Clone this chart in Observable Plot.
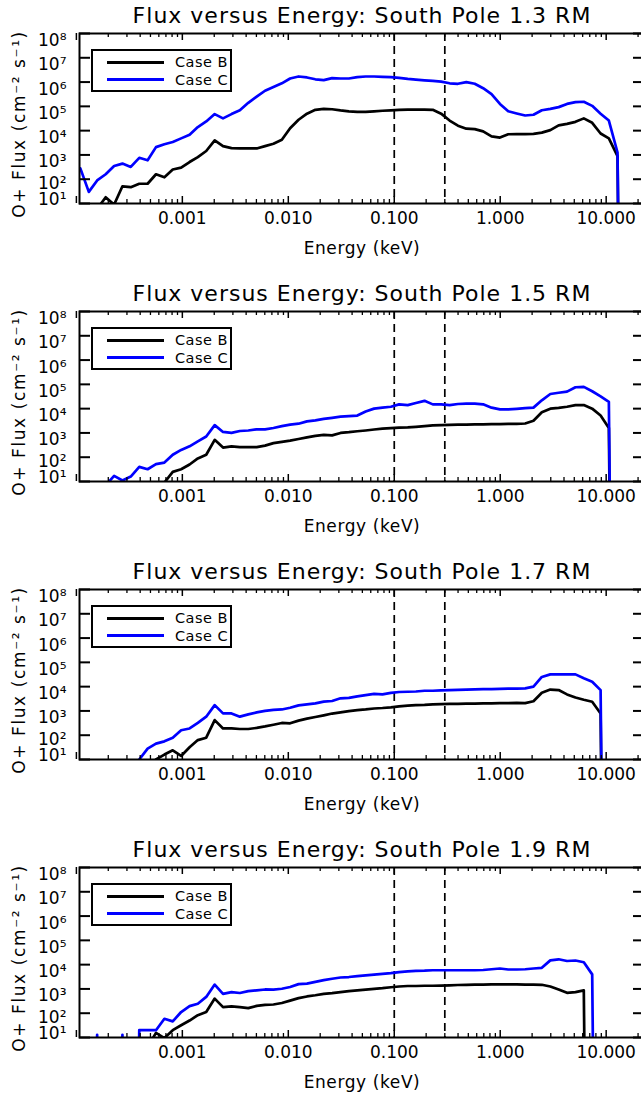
<!DOCTYPE html>
<html>
<head>
<meta charset="utf-8">
<script src="https://cdn.jsdelivr.net/npm/d3@7"></script>
<script src="https://cdn.jsdelivr.net/npm/@observablehq/plot@0.6"></script>
<style>
  html, body { margin: 0; padding: 0; background: #fff; overflow: hidden; }
  #chart { width: 641px; }
  .panel { position: relative; width: 641px; height: 278px; overflow: hidden; }
  .legend { position: absolute; left: 91px; top: 49px; width: 141px; height: 43px; box-sizing: border-box;
            border: 2px solid #000; background: #fff; font-family: "DejaVu Sans"; font-size: 14.5px; letter-spacing: 0.5px; }
  .legend .row { position: absolute; left: 14px; height: 20px; display: flex; align-items: center; }
  .legend .swatch { width: 57px; height: 3px; margin-right: 11px; }
</style>
</head>
<body>
<div id="chart"></div>
<script>
// ---- data ----
const panelTitles = [
  "Flux versus Energy: South Pole 1.3 RM",
  "Flux versus Energy: South Pole 1.5 RM",
  "Flux versus Energy: South Pole 1.7 RM",
  "Flux versus Energy: South Pole 1.9 RM"
];
const seriesNames = ["Case B", "Case C"];
const seriesColors = ["#000000", "#0000ff"];
const markerEnergies = [0.1, 0.3];           // dashed reference lines (keV)
const xLabelTicks = [0.001, 0.01, 0.1, 1, 10];
const xMajorTicks = [0.0001, 0.001, 0.01, 0.1, 1, 10];
const yTicks = [1e1, 1e2, 1e3, 1e4, 1e5, 1e6, 1e7, 1e8];
const xDomain = [1.07e-4, 23];
const yDomain = [10, 1e8];

// energy bins (keV)
const energy = [
  0.000109, 0.000131, 0.000157, 0.000189, 0.000227, 0.000272, 0.000326, 0.000392, 0.000470, 0.000564,
  0.000677, 0.000812, 0.000974, 0.00117, 0.00140, 0.00168, 0.00202, 0.00242, 0.00291, 0.00349,
  0.00419, 0.00503, 0.00603, 0.00724, 0.00869, 0.0104, 0.0125, 0.0150, 0.0180, 0.0216,
  0.0259, 0.0311, 0.0373, 0.0448, 0.0537, 0.0645, 0.0774, 0.0929, 0.111, 0.134,
  0.160, 0.193, 0.231, 0.277, 0.333, 0.399, 0.479, 0.575, 0.690, 0.828,
  0.994, 1.19, 1.43, 1.72, 2.06, 2.47, 2.97, 3.56, 4.27, 5.13,
  6.15, 7.38, 8.86, 10.6, 12.8, 15.3
];

// O+ flux (cm^-2 s^-1); 0 = no flux (drawn as a drop below the axis)
const fluxB13 = [
  2, 3, 6, 18, 9, 51, 47, 65, 65, 160,
  120, 250, 300, 510, 810, 1450, 4000, 2300, 1900, 1850,
  1850, 1850, 2300, 2900, 4200, 12600, 28000, 50000, 72000, 79000,
  76000, 68000, 62000, 59000, 59000, 62000, 66000, 68000, 71000, 74000,
  74000, 74000, 72000, 50000, 26000, 16000, 12000, 11500, 9300, 5800,
  5200, 7100, 7200, 7200, 7400, 8300, 10500, 16600, 19000, 23000,
  32000, 21000, 7600, 4800, 890, 0
];
const fluxC13 = [
  280, 30, 89, 160, 350, 440, 320, 760, 600, 2100,
  2750, 3400, 4800, 6800, 14000, 24000, 48000, 32000, 48000, 69000,
  140000, 250000, 440000, 630000, 890000, 1400000, 1700000, 1550000, 1300000, 1200000,
  1450000, 1400000, 1400000, 1600000, 1700000, 1700000, 1650000, 1600000, 1500000, 1350000,
  1260000, 1180000, 1120000, 1050000, 890000, 850000, 1000000, 850000, 560000, 320000,
  126000, 63000, 51000, 42000, 45000, 69000, 79000, 93000, 126000, 150000,
  155000, 105000, 50000, 26000, 1260, 0
];
const fluxB15 = [
  0, 0, 0, 0, 0, 0, 0, 0, 0, 0,
  9, 25, 32, 50, 89, 126, 520, 250, 280, 260,
  260, 260, 300, 380, 430, 480, 560, 660, 760, 830,
  790, 1000, 1070, 1170, 1260, 1380, 1510, 1580, 1660, 1700,
  1780, 1900, 2040, 2090, 2140, 2190, 2190, 2240, 2240, 2290,
  2290, 2340, 2340, 2450, 3160, 7100, 10000, 10700, 12000, 14000,
  14000, 10000, 5200, 1600, 0, 0
];
const fluxC15 = [
  3, 4, 5, 7, 17, 11, 16, 40, 32, 52,
  60, 126, 200, 280, 450, 710, 2100, 1100, 1000, 1200,
  1260, 1400, 1400, 1600, 1900, 2200, 2400, 3000, 3300, 3800,
  4200, 4700, 4900, 5200, 7600, 10000, 11000, 12000, 15000, 14000,
  17000, 21000, 15000, 15000, 14000, 15500, 16000, 16000, 15000, 11000,
  9300, 9300, 9800, 10500, 11000, 22000, 40000, 45000, 50000, 76000,
  79000, 52000, 32000, 19000, 0, 0
];
const fluxB17 = [
  0, 0, 0, 0, 0, 0, 0, 0, 0, 10,
  16, 24, 14, 32, 63, 79, 420, 190, 190, 180,
  180, 200, 230, 270, 320, 310, 400, 480, 560, 660,
  780, 870, 980, 1070, 1150, 1260, 1320, 1410, 1550, 1660,
  1740, 1780, 1860, 1910, 1950, 1950, 2000, 2000, 2040, 2040,
  2090, 2090, 2140, 2090, 2510, 5620, 7590, 7240, 4790, 3550,
  2880, 2400, 790, 0, 0, 0
];
const fluxC17 = [
  0, 0, 0, 0, 0, 0, 0, 10, 28, 45,
  56, 79, 160, 190, 320, 580, 1740, 790, 790, 580,
  720, 870, 1000, 1100, 1150, 1350, 1700, 1860, 2040, 2400,
  2570, 3310, 3470, 3980, 4470, 5010, 4790, 5500, 6030, 6170,
  6310, 6760, 6760, 7080, 7240, 7410, 7590, 7760, 7940, 7940,
  8130, 8320, 8320, 8510, 10000, 25000, 32000, 32000, 32000, 32000,
  22000, 16000, 7200, 0, 0, 0
];
const fluxB19 = [
  0, 0, 0, 0, 0, 0, 0, 0, 4, 15.5,
  9.5, 20, 32, 50, 83, 112, 400, 178, 190, 178,
  162, 200, 219, 229, 263, 331, 417, 490, 550, 630,
  676, 741, 813, 871, 933, 1000, 1070, 1175, 1260, 1320,
  1320, 1350, 1350, 1380, 1410, 1450, 1480, 1510, 1510, 1550,
  1550, 1550, 1550, 1510, 1510, 1480, 1260, 955, 692, 741,
  871, 0, 0, 0, 0, 0
];
const fluxC19 = [
  0, 0, 13, 0, 0, 13, 0, 20, 20, 20,
  59, 46, 112, 195, 245, 470, 1510, 630, 740, 680,
  810, 870, 950, 930, 1020, 1200, 1580, 1660, 1950, 2290,
  2630, 2950, 3090, 3390, 3630, 3890, 4170, 4470, 4900, 5250,
  5500, 5620, 5890, 5890, 5890, 5890, 5890, 5890, 6030, 6460,
  6920, 6310, 6310, 6460, 6920, 7410, 15000, 16600, 14100, 14800,
  12600, 3980, 0, 0, 0, 0
];

const panelSeries = [
  [fluxB13, fluxC13],
  [fluxB15, fluxC15],
  [fluxB17, fluxC17],
  [fluxB19, fluxC19]
];

// ---- drawing ----
const FLOOR = 1e-30; // IDL draws log(0) far below the axis -> vertical drop
const SUP = {"1": "\u00b9", "2": "\u00b2", "3": "\u00b3", "4": "\u2074", "5": "\u2075", "6": "\u2076", "7": "\u2077", "8": "\u2078"};
const supFormat = v => "10" + SUP[String(Math.round(Math.log10(v)))];
const xMinorTicks = xMajorTicks.flatMap(d => [2, 3, 4, 5, 6, 7, 8, 9].map(k => d * k)).filter(v => v < xDomain[1]);

const W = 641, H = 278, ML = 79, MR = -3, MT = 33, MB = 75;
const plotW = W - ML - MR, plotH = H - MT - MB;
const yLabel = "O+ Flux (cm\u207b\u00b2 s\u207b\u00b9)";
const xLabel = "Energy (keV)";

const chart = document.getElementById("chart");
const yAxisOpts = {tickSize: 0, tickPadding: 13, tickFormat: supFormat, label: null, fontSize: 17};

panelTitles.forEach((title, p) => {
  const series = panelSeries[p];
  const rows = series.flatMap((arr, s) => energy.map((e, i) => ({e, f: arr[i], s: seriesNames[s]})).filter(d => d.f !== undefined));
  const svg = Plot.plot({
    width: W, height: H,
    marginLeft: ML, marginRight: MR, marginTop: MT, marginBottom: MB,
    style: {fontFamily: "DejaVu Sans", fontSize: "17px", color: "black", background: "white", overflow: "hidden"},
    x: {type: "log", domain: xDomain},
    y: {type: "log", domain: yDomain},
    marks: [
      Plot.ruleX(markerEnergies, {stroke: "black", strokeWidth: 1.7, strokeDasharray: "8,5"}),
      ...seriesNames.map((name, s) => Plot.line(rows.filter(d => d.s === name), {
        x: "e", y: d => d.f > 0 ? d.f : FLOOR,
        stroke: seriesColors[s], strokeWidth: 2.7, strokeLinejoin: "round", clip: true
      })),
      Plot.frame({stroke: "black", strokeWidth: 2}),
      Plot.ruleX(xMajorTicks, {stroke: "black", strokeWidth: 1.5, insetTop: plotH - 7}),
      Plot.ruleX(xMajorTicks, {stroke: "black", strokeWidth: 1.5, insetBottom: plotH - 7}),
      Plot.ruleX(xMinorTicks, {stroke: "black", strokeWidth: 1.3, insetTop: plotH - 4}),
      Plot.ruleX(xMinorTicks, {stroke: "black", strokeWidth: 1.3, insetBottom: plotH - 4}),
      Plot.ruleY(yTicks, {stroke: "black", strokeWidth: 2, insetRight: plotW - 11}),
      Plot.ruleY(yTicks, {stroke: "black", strokeWidth: 2, insetLeft: plotW - 11}),
      Plot.axisX(xLabelTicks, {tickSize: 0, tickPadding: 8, tickFormat: d => d.toFixed(3), label: null, fontSize: 17}),
      Plot.axisY(yTicks.filter(v => v > 100), {...yAxisOpts, dy: 7}),
      Plot.axisY(yTicks.filter(v => v === 100), {...yAxisOpts, dy: 4.5}),
      Plot.axisY(yTicks.filter(v => v === 10), {...yAxisOpts, dy: -4}),
      Plot.text([title], {frameAnchor: "top", lineAnchor: "bottom", textAnchor: "middle", dy: -11, fontSize: 22}),
      Plot.text([yLabel], {frameAnchor: "left", textAnchor: "middle", lineAnchor: "middle", rotate: -90, dx: -59.5, dy: 5.5, fontSize: 17}),
      Plot.text([xLabel], {frameAnchor: "bottom", textAnchor: "middle", lineAnchor: "middle", dy: 45, fontSize: 17})
    ]
  });
  d3.select(svg).selectAll("text").each(function() {
    const t = this.textContent;
    if (t === title) this.style.letterSpacing = "1px";
    else if (t === yLabel) this.style.letterSpacing = "1.6px";
    else if (t === xLabel) this.style.letterSpacing = "0.6px";
  });
  const wrap = document.createElement("div");
  wrap.className = "panel";
  wrap.appendChild(svg);
  const legend = document.createElement("div");
  legend.className = "legend";
  seriesNames.forEach((name, s) => {
    const row = document.createElement("div");
    row.className = "row";
    row.style.top = (s === 0 ? 1.4 : 18.7) + "px";
    const sw = document.createElement("div");
    sw.className = "swatch";
    sw.style.background = seriesColors[s];
    const tx = document.createElement("span");
    tx.textContent = name;
    row.appendChild(sw);
    row.appendChild(tx);
    legend.appendChild(row);
  });
  wrap.appendChild(legend);
  chart.appendChild(wrap);
});
</script>
</body>
</html>
